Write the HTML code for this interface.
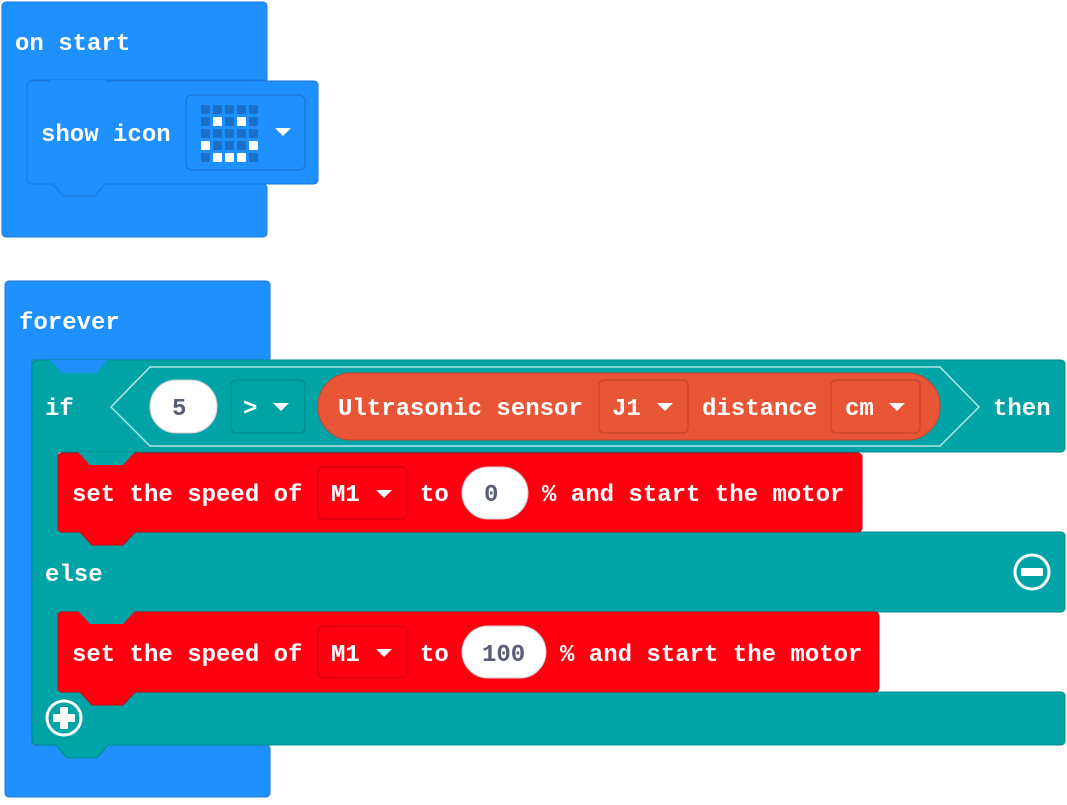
<!DOCTYPE html>
<html><head><meta charset="utf-8"><style>
body{margin:0;background:#fff;}
svg text{font-family:"Liberation Mono",monospace;font-weight:bold;font-size:24px;fill:#fff;}
</style></head><body>
<svg width="1067" height="800" viewBox="0 0 1067 800">
<!-- on start -->
<path d="M6,2 H263 a4,4 0 0 1 4,4 V80 H31 V184 H263 a4,4 0 0 1 4,4 V233 a4,4 0 0 1 -4,4 H6 a4,4 0 0 1 -4,-4 V6 a4,4 0 0 1 4,-4 Z" fill="#1e90ff" stroke="#1a78d6" stroke-width="1"/>
<path d="M31,81 H314 a4,4 0 0 1 4,4 V180 a4,4 0 0 1 -4,4 H105 L95,196 H63 L53,184 H31 a4,4 0 0 1 -4,-4 V85 a4,4 0 0 1 4,-4 Z" fill="#1e90ff" stroke="#1a78d6"/>
<path d="M50,80 L62,93 H95 L107,80 Z" fill="#1e90ff"/>
<text x="15" y="50">on start</text>
<text x="41" y="141">show icon</text>
<rect x="186" y="95" width="119" height="75" rx="6" fill="#1e90ff" stroke="#1a72c8"/>
<g fill="#1a6fc6">
<rect x="201" y="105" width="9" height="9" rx="1"/><rect x="213" y="105" width="9" height="9" rx="1"/><rect x="225" y="105" width="9" height="9" rx="1"/><rect x="237" y="105" width="9" height="9" rx="1"/><rect x="249" y="105" width="9" height="9" rx="1"/>
<rect x="201" y="117" width="9" height="9" rx="1"/><rect x="225" y="117" width="9" height="9" rx="1"/><rect x="249" y="117" width="9" height="9" rx="1"/>
<rect x="201" y="129" width="9" height="9" rx="1"/><rect x="213" y="129" width="9" height="9" rx="1"/><rect x="225" y="129" width="9" height="9" rx="1"/><rect x="237" y="129" width="9" height="9" rx="1"/><rect x="249" y="129" width="9" height="9" rx="1"/>
<rect x="213" y="141" width="9" height="9" rx="1"/><rect x="225" y="141" width="9" height="9" rx="1"/><rect x="237" y="141" width="9" height="9" rx="1"/>
<rect x="201" y="153" width="9" height="9" rx="1"/><rect x="249" y="153" width="9" height="9" rx="1"/>
</g>
<g fill="#fff">
<rect x="213" y="117" width="9" height="9" rx="1"/><rect x="237" y="117" width="9" height="9" rx="1"/>
<rect x="201" y="141" width="9" height="9" rx="1"/><rect x="249" y="141" width="9" height="9" rx="1"/>
<rect x="213" y="153" width="9" height="9" rx="1"/><rect x="225" y="153" width="9" height="9" rx="1"/><rect x="237" y="153" width="9" height="9" rx="1"/>
</g>
<path d="M275,128 H291 L283,136 Z" fill="#fff"/>

<!-- forever -->
<path d="M9,281 H266 a4,4 0 0 1 4,4 V360 H32 V745 H266 a4,4 0 0 1 4,4 V793 a4,4 0 0 1 -4,4 H9 a4,4 0 0 1 -4,-4 V285 a4,4 0 0 1 4,-4 Z" fill="#1e90ff" stroke="#1a78d6"/>
<text x="19" y="329">forever</text>

<!-- if block -->
<path d="M36,360 H1061 a4,4 0 0 1 4,4 V448 a4,4 0 0 1 -4,4 H58 V532 H1061 a4,4 0 0 1 4,4 V608 a4,4 0 0 1 -4,4 H58 V692 H1061 a4,4 0 0 1 4,4 V741 a4,4 0 0 1 -4,4 H108 L97,758 H67 L56,745 H36 a4,4 0 0 1 -4,-4 V364 a4,4 0 0 1 4,-4 Z" fill="#00a4a6" stroke="#008a8c"/>
<path d="M50,360 L62,373 H96 L108,360 Z" fill="#1e90ff"/>
<text x="45" y="415">if</text>
<text x="993" y="415">then</text>
<text x="45" y="581">else</text>
<!-- condition hexagon -->
<path d="M150,367 H940 L979,407 L940,446 H150 L111,407 Z" fill="none" stroke="#b3e4e4" stroke-width="1.5"/>
<rect x="150" y="380" width="67" height="53" rx="26" fill="#fff" stroke="#ccc"/>
<text x="172" y="415" style="fill:#575e75">5</text>
<rect x="231" y="380" width="74" height="53" rx="5" fill="#00a4a6" stroke="#008385"/>
<text x="243" y="415">&gt;</text>
<path d="M273,403 H289 L281,411 Z" fill="#fff"/>
<rect x="318" y="373" width="622" height="67" rx="33" fill="#e95637" stroke="#c4442b"/>
<text x="338" y="415">Ultrasonic sensor</text>
<rect x="599" y="380" width="89" height="53" rx="5" fill="#e95637" stroke="#bf4229"/>
<text x="612" y="415">J1</text>
<path d="M657,403 H673 L665,411 Z" fill="#fff"/>
<text x="702" y="415">distance</text>
<rect x="831" y="380" width="89" height="53" rx="5" fill="#e95637" stroke="#bf4229"/>
<text x="845" y="415">cm</text>
<path d="M889,403 H905 L897,411 Z" fill="#fff"/>

<!-- red block 1 -->
<path d="M62,453 H858 a4,4 0 0 1 4,4 V528 a4,4 0 0 1 -4,4 H135 L123,545 H92 L80,532 H62 a4,4 0 0 1 -4,-4 V457 a4,4 0 0 1 4,-4 Z" fill="#ff0010" stroke="#cc000d"/>
<path d="M78,452 L90,465 H123 L135,452 Z" fill="#00a4a6"/>
<text x="72" y="501">set the speed of</text>
<rect x="318" y="467" width="89" height="52" rx="5" fill="#ff0010" stroke="#c8000c"/>
<text x="331" y="501">M1</text>
<path d="M376,490 H392 L384,498 Z" fill="#fff"/>
<text x="420" y="501">to</text>
<rect x="462" y="467" width="66" height="52" rx="26" fill="#fff" stroke="#ccc"/>
<text x="484" y="501" style="fill:#575e75">0</text>
<text x="542" y="501">% and start the motor</text>
<!-- minus -->
<circle cx="1032" cy="572" r="17" fill="none" stroke="#fff" stroke-width="3"/>
<rect x="1021" y="568" width="22" height="8" rx="1" fill="#fff"/>

<!-- red block 2 -->
<path d="M62,612 H875 a4,4 0 0 1 4,4 V688 a4,4 0 0 1 -4,4 H135 L123,705 H92 L80,692 H62 a4,4 0 0 1 -4,-4 V616 a4,4 0 0 1 4,-4 Z" fill="#ff0010" stroke="#cc000d"/>
<path d="M78,611 L90,624 H123 L135,611 Z" fill="#00a4a6"/>
<text x="72" y="661">set the speed of</text>
<rect x="318" y="626" width="89" height="52" rx="5" fill="#ff0010" stroke="#c8000c"/>
<text x="331" y="661">M1</text>
<path d="M376,649 H392 L384,657 Z" fill="#fff"/>
<text x="420" y="661">to</text>
<rect x="462" y="626" width="84" height="52" rx="26" fill="#fff" stroke="#ccc"/>
<text x="482" y="661" style="fill:#575e75">100</text>
<text x="560" y="661">% and start the motor</text>
<!-- plus -->
<circle cx="64" cy="718" r="17" fill="none" stroke="#fff" stroke-width="3"/>
<rect x="53" y="714" width="22" height="8" rx="1" fill="#fff"/>
<rect x="60" y="707" width="8" height="22" rx="1" fill="#fff"/>
</svg>
</body></html>
